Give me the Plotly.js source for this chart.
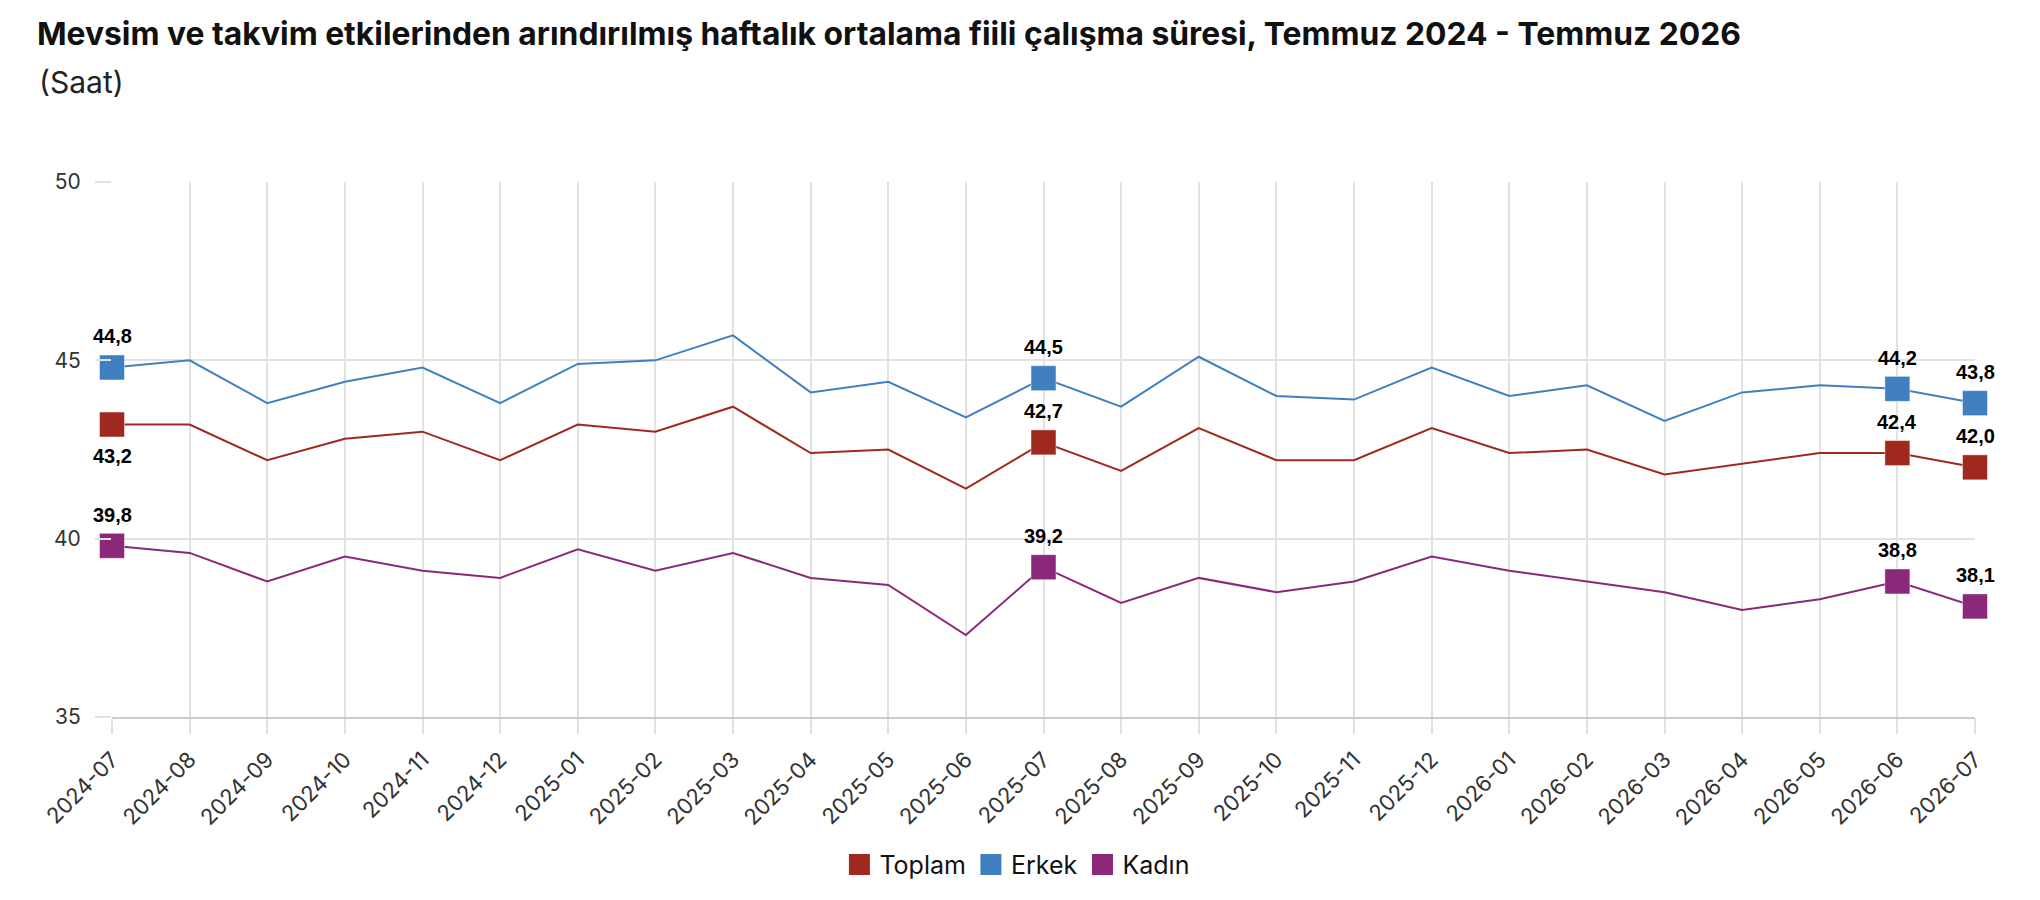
<!DOCTYPE html>
<html>
<head>
<meta charset="utf-8">
<script src="https://cdn.plot.ly/plotly-3.0.1.min.js"></script>
<style>
  html, body { margin: 0; padding: 0; background: #fff; }
  #grafik { width: 2040px; height: 900px; }
</style>
</head>
<body>
<div id="grafik"></div>
<script>
var aylar = ['2024-07','2024-08','2024-09','2024-10','2024-11','2024-12',
             '2025-01','2025-02','2025-03','2025-04','2025-05','2025-06',
             '2025-07','2025-08','2025-09','2025-10','2025-11','2025-12',
             '2026-01','2026-02','2026-03','2026-04','2026-05','2026-06','2026-07']

var toplam = [43.2,43.2,42.2,42.8,43.0,42.2,43.2,43.0,43.7,42.4,42.5,41.4,
              42.7,41.9,43.1,42.2,42.2,43.1,42.4,42.5,41.8,42.1,42.4,42.4,42.0]
var erkek  = [44.8,45.0,43.8,44.4,44.8,43.8,44.9,45.0,45.7,44.1,44.4,43.4,
              44.5,43.7,45.1,44.0,43.9,44.8,44.0,44.3,43.3,44.1,44.3,44.2,43.8]
var kadin  = [39.8,39.6,38.8,39.5,39.1,38.9,39.7,39.1,39.6,38.9,38.7,37.3,
              39.2,38.2,38.9,38.5,38.8,39.5,39.1,38.8,38.5,38.0,38.3,38.8,38.1]

// etiketli noktalar
var isaretli = [0, 12, 23, 24]
var toplamEtiketYonu = [-1, 1, 1, 1]   // -1: altta, 1: ustte

var seriler = [
  {ad: 'Toplam', veri: toplam, renk: '#A0291F', yon: toplamEtiketYonu},
  {ad: 'Erkek',  veri: erkek,  renk: '#4180C0', yon: [1,1,1,1]},
  {ad: 'Kadın',  veri: kadin,  renk: '#8A2879', yon: [1,1,1,1]}
]

function virgul(v) { return v.toFixed(1).replace('.', ',') }

var dane = []
var notlar = []

for (var i = 0; i < seriler.length; i++) {
  var s = seriler[i]
  dane.push({
    type: 'scatter', mode: 'lines', name: s.ad, showlegend: false,
    x: aylar, y: s.veri, hoverinfo: 'skip',
    line: {color: s.renk, width: 2}
  })
}

for (var i = 0; i < seriler.length; i++) {
  var s = seriler[i]
  var px = [], py = []
  for (var j = 0; j < isaretli.length; j++) {
    var k = isaretli[j]
    px.push(aylar[k]); py.push(s.veri[k])
    notlar.push({
      x: aylar[k], y: s.veri[k], xref: 'x', yref: 'y',
      text: virgul(s.veri[k]), showarrow: false,
      yshift: 31 * s.yon[j],
      font: {family: 'Liberation Sans, Arial, sans-serif', size: 20, color: '#000', weight: 'bold'}
    })
  }
  dane.push({
    type: 'scatter', mode: 'markers', name: s.ad, cliponaxis: false,
    x: px, y: py, showlegend: false,
    marker: {symbol: 'square', size: 25, color: s.renk,
             line: {color: 'rgba(255,255,255,0.45)', width: 1}}
  })
  // sadece lejant icin
  dane.push({
    type: 'scatter', mode: 'markers', name: s.ad,
    x: [null], y: [null],
    marker: {symbol: 'square', size: 16, color: s.renk,
             line: {color: s.renk, width: 5}}
  })
}

notlar.push({
  xref: 'paper', yref: 'paper', x: -0.0403, y: 1.187, xanchor: 'left', yanchor: 'middle',
  text: '(Saat)', showarrow: false,
  font: {family: 'Inter, sans-serif', size: 30, color: '#222'}
})

var layout = {
  width: 2040, height: 900,
  paper_bgcolor: '#fff', plot_bgcolor: '#fff',
  margin: {l: 112, r: 65, t: 182, b: 178},
  title: {
    text: 'Mevsim ve takvim etkilerinden arındırılmış haftalık ortalama fiili çalışma süresi, Temmuz 2024 - Temmuz 2026',
    xref: 'container', yref: 'container', x: 37 / 2040, xanchor: 'left',
    y: 1 - 34 / 900, yanchor: 'middle',
    font: {family: 'Inter, sans-serif', size: 31.8, color: '#111', weight: 'bold'}
  },
  xaxis: {
    type: 'category', range: [0, 24], autorange: false,
    showgrid: true, gridcolor: '#e2e2e2', gridwidth: 2,
    ticks: 'outside', ticklen: 15, tickcolor: '#e2e2e2', tickwidth: 2,
    tickangle: -45, ticklabelstandoff: 4,
    showline: true, linecolor: '#cccccc', linewidth: 2,
    zeroline: false,
    tickfont: {family: 'Inter, sans-serif', size: 22, color: '#333'}
  },
  yaxis: {
    range: [35, 50], autorange: false, dtick: 5, tick0: 35,
    showgrid: true, gridcolor: '#e2e2e2', gridwidth: 2,
    ticks: 'outside', ticklen: 16, tickcolor: '#e2e2e2', tickwidth: 2,
    ticklabelstandoff: 10, zeroline: false, showline: false,
    tickfont: {family: 'Inter, sans-serif', size: 21, color: '#333'}
  },
  showlegend: true,
  legend: {
    orientation: 'h', x: 0.486, xanchor: 'center', y: -0.276, yanchor: 'middle',
    font: {family: 'Inter, sans-serif', size: 25, color: '#111'},
    itemsizing: 'trace'
  },
  annotations: notlar
}

Plotly.newPlot('grafik', dane, layout, {displayModeBar: false, staticPlot: true})
</script>
</body>
</html>
